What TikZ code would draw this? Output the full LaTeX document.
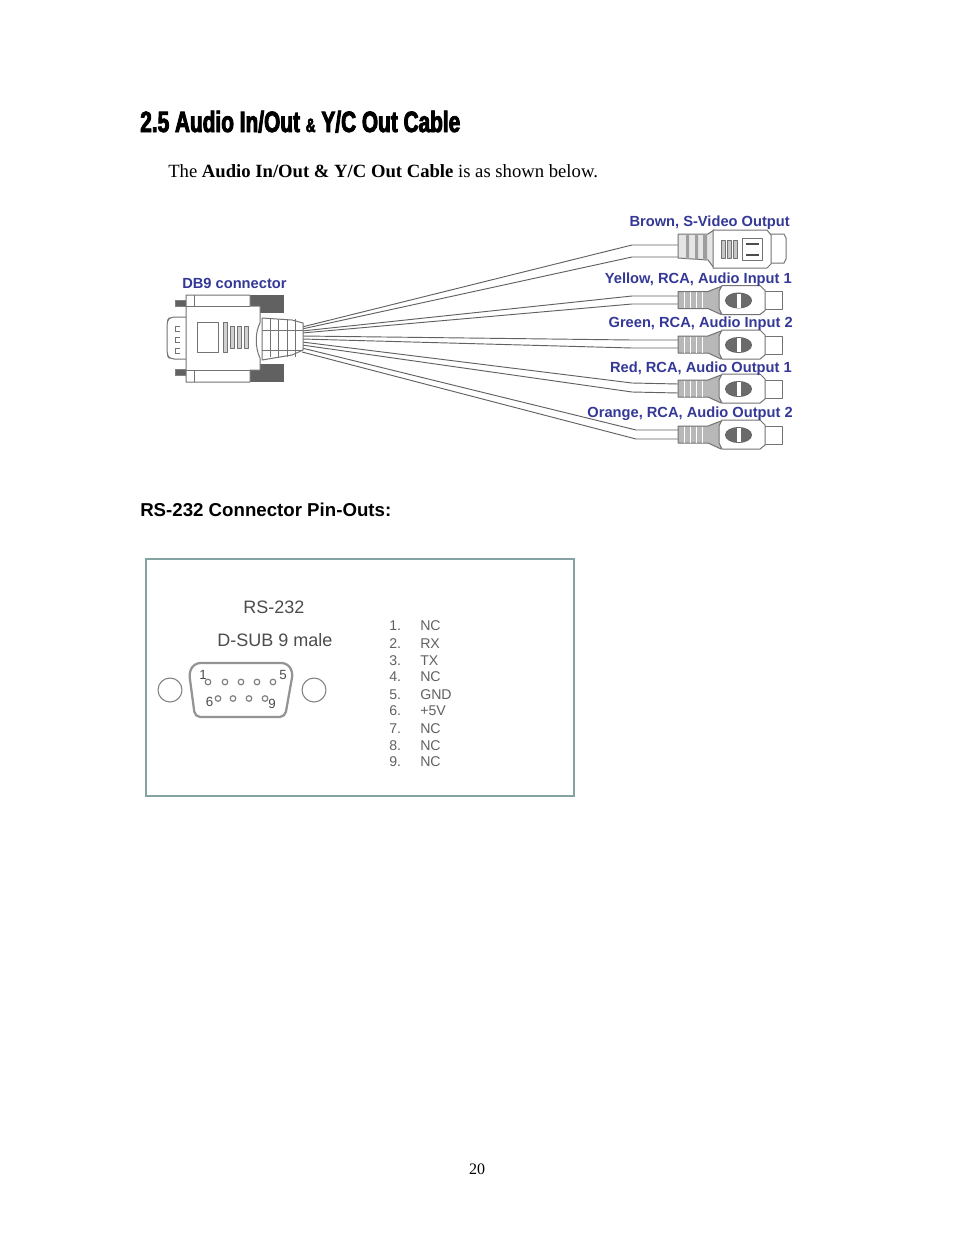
\documentclass[tikz,border=0pt]{standalone}
\usepackage{fontspec}
\setmainfont{Liberation Serif}
\newfontfamily\arialf{Liberation Sans}
\newfontfamily\headf[FakeStretch=0.71,FakeBold=3]{Liberation Sans}
\definecolor{lblblue}{RGB}{52,56,150}
\definecolor{panelc}{RGB}{132,162,162}
\begin{document}
\begin{tikzpicture}[x=0.75pt,y=-0.75pt,
  wire/.style={draw=black!62,line width=0.7pt,line join=round},
  part/.style={draw=black!55,fill=white,line width=0.75pt,line join=round},
  rib/.style={draw=white,line width=0.7pt},
  ribfill/.style={fill=black!28},
  dark/.style={fill=black!62},
  thin/.style={draw=black!55,line width=0.6pt},
  lbl/.style={font=\arialf\bfseries\fontsize{11}{13}\selectfont,text=lblblue,inner sep=0pt,anchor=base east},
  pin/.style={font=\arialf\fontsize{10.6}{12}\selectfont,text=black!62,inner sep=0pt,anchor=base west},
  rs/.style={font=\arialf\fontsize{13.5}{16}\selectfont,text=black!70,inner sep=0pt,anchor=base},
  dg/.style={font=\arialf\fontsize{10}{11}\selectfont,text=black!70,inner sep=0pt},
  hole/.style={draw=black!50,line width=0.8pt,fill=white},
  dsubpin/.style={draw=black!50,line width=0.9pt},
  body/.style={inner sep=0pt,anchor=base west}]
\useasboundingbox (0,0) rectangle (954,1235);
\fill[white] (0,0) rectangle (954,1235);

% page text
\node[body,font=\headf\bfseries\fontsize{22}{24}\selectfont] (head) at (140,132) {2.5 Audio In/Out {\fontsize{14.5}{15}\selectfont\&} Y/C Out Cable};
\node[body,font=\fontsize{14}{16}\selectfont] (intro) at (168,177) {The \textbf{Audio In/Out \& Y/C Out Cable} is as shown below.};
\node[body,font=\arialf\bfseries\fontsize{14}{16}\selectfont] (pinouts) at (140,516) {RS-232 Connector Pin-Outs:};
\node[body,anchor=base,font=\fontsize{12}{14}\selectfont] (pageno) at (477,1174) {20};

% cable ends at the DB9
\foreach \n/\y in {ea/327,eb/329,ec/331,ed/333,ee/336,ef/339,eg/342,eh/345,ei/348,ek/352}
  \coordinate (\n) at (302,\y);

% bends and connector ends
\coordinate (ba1) at (632,245); \coordinate (ba2) at (678,245);
\coordinate (bb1) at (632,257); \coordinate (bb2) at (678,257);
\coordinate (ca1) at (632,296); \coordinate (ca2) at (678,296);
\coordinate (cb1) at (632,304); \coordinate (cb2) at (678,304);
\coordinate (da1) at (632,340); \coordinate (da2) at (678,340);
\coordinate (db1) at (632,348); \coordinate (db2) at (678,348);
\coordinate (fa1) at (632,383); \coordinate (fa2) at (678,384);
\coordinate (fb1) at (632,392); \coordinate (fb2) at (678,393);
\coordinate (ga1) at (636,430); \coordinate (ga2) at (678,430);
\coordinate (gb1) at (636,439); \coordinate (gb2) at (678,439);
\draw[wire] (ea) -- (ba1) -- (ba2);
\draw[wire] (eb) -- (bb1) -- (bb2);
\draw[wire] (ec) -- (ca1) -- (ca2);
\draw[wire] (ed) -- (cb1) -- (cb2);
\draw[wire] (ee) -- (da1) -- (da2);
\draw[wire] (ef) -- (db1) -- (db2);
\draw[wire] (eg) -- (fa1) -- (fa2);
\draw[wire] (eh) -- (fb1) -- (fb2);
\draw[wire] (ei) -- (ga1) -- (ga2);
\draw[wire] (ek) -- (gb1) -- (gb2);

% S-video connector
\draw[part,fill=black!10] (678,234) -- (708,234) -- (714,230) -- (714,268) -- (708,260) -- (678,258) -- cycle;
\fill[black!38] (686,234) rectangle (689,259) (695,234) rectangle (698,259.5) (703,234) rectangle (707,260);
\draw[part] (770,234) -- (784,234) -- (786,238) -- (786,259) -- (784,263) -- (770,263) -- cycle;
\draw[part] (713,230) -- (767,230) -- (771,235) -- (771,264) -- (767,268) -- (713,268) -- cycle;
\foreach \x in {723,729,735} \draw[part,fill=black!22] (\x-2,240) rectangle (\x+2,258);
\draw[part] (742,238) rectangle (762,260);
\draw[draw=black!70,line width=0.9pt] (746,244) -- (759,244) (746,255) -- (759,255);

% RCA connectors
\foreach \y in {300.5,345,389,435}{
  \begin{scope}[shift={(0,\y)}]
    \draw[part,ribfill] (678,-9) -- (708,-9) -- (721,-14) -- (721,14) -- (708,8) -- (678,8) -- cycle;
    \foreach \x in {684,690,696,702} \draw[rib] (\x,-8.5) -- (\x,7.5);
    \draw[part] (764,-9) rectangle (782,9);
    \draw[part] (722,-15) -- (760,-15) -- (765,-10) -- (765,10) -- (760,14) -- (722,14) -- (719,8) -- (719,-9) -- cycle;
    \draw[part,draw=black!60,fill=black!58] (738.5,0) ellipse [x radius=13,y radius=7.5];
    \fill[white] (736.5,-7) rectangle (741,7);
  \end{scope}}

% DB9 connector
\draw[part,rounded corners=3pt] (187,317) -- (170,317) -- (167,321) -- (167,355) -- (170,359) -- (187,359);
\foreach \y in {326,337,348}
  \draw[thin] (180,\y) -- (175,\y) -- (175,\y+5) -- (180,\y+5);
\fill[dark,draw=black!50] (175,300) rectangle (186,306);
\fill[dark,draw=black!50] (175,369) rectangle (186,375);
\fill[dark] (250,295) rectangle (284,313);
\fill[dark] (250,364) rectangle (284,382);
\draw[part] (262,318) -- (292,320) -- (303,323) -- (303,350) -- (292,355) -- (262,360) -- cycle;
\foreach \x in {270,278,287,295} \draw[thin] (\x,319) -- (\x,357);
\draw[thin] (262,330) -- (303,330) (262,350) -- (303,350);
\draw[part] (186,295) -- (250,295) -- (250,306) -- (260,306) -- (260,323) .. controls (255,332) and (255,348) .. (260,358) -- (260,370) -- (250,370) -- (250,382) -- (186,382) -- cycle;
\draw[thin] (194,295) -- (194,306) (186,306) -- (250,306);
\draw[thin] (194,382) -- (194,370) (186,370) -- (250,370);
\draw[part] (197,322) rectangle (218,352);
\draw[part,fill=black!18] (223.5,322) rectangle (227.5,352);
\foreach \x in {232.5,239.5,246.5} \draw[part,fill=black!18] (\x-2,326) rectangle (\x+2,348);

% cable labels
\node[lbl] (brown) at (790,226) {Brown, S-Video Output};
\node[lbl] (yellow) at (792,283) {Yellow, RCA, Audio Input 1};
\node[lbl] (green) at (793,327) {Green, RCA, Audio Input 2};
\node[lbl] (red) at (792,372) {Red, RCA, Audio Output 1};
\node[lbl] (orange) at (793,417) {Orange, RCA, Audio Output 2};
\node[lbl,anchor=base west] (db9) at (182,288) {DB9 connector};

% RS-232 panel
\node[draw=panelc,line width=2pt,minimum width=321pt,minimum height=177.75pt,inner sep=0pt] (panel) at (360,677.5) {};
\node[rs] (rstitle) at (274,613) {RS-232};
\node[rs] (rssub) at (275,646) {D-SUB 9 male};
\node[circle,hole,minimum size=18pt,inner sep=0pt] (ml) at (170,690) {};
\node[circle,hole,minimum size=18pt,inner sep=0pt] (mr) at (314,690) {};
\draw[draw=black!42,line width=1.7pt,line join=round,rounded corners=4pt] (195,717) -- (189,672) -- (195,663) -- (287,663) -- (293,672) -- (285,717) -- cycle;
\foreach \x in {208,225,241,257,273}
  \draw[dsubpin] (\x,682) circle [radius=2.8];
\foreach \x in {218,233,249,265}
  \draw[dsubpin] (\x,698.5) circle [radius=2.8];
\node[dg] (p1) at (203,675) {1};
\node[dg] (p5) at (283,675) {5};
\node[dg] (p6) at (209.5,702) {6};
\node[dg] (p9) at (272,704) {9};
\foreach \i/\t/\y in {1/NC/625,2/RX/643,3/TX/660,4/NC/676,5/GND/694,6/+5V/710,7/NC/728,8/NC/745,9/NC/761}{
  \node[pin] (n\i) at (389,\y+5) {\i.};
  \node[pin] (v\i) at (420,\y+5) {\t};
}
\end{tikzpicture}
\end{document}
